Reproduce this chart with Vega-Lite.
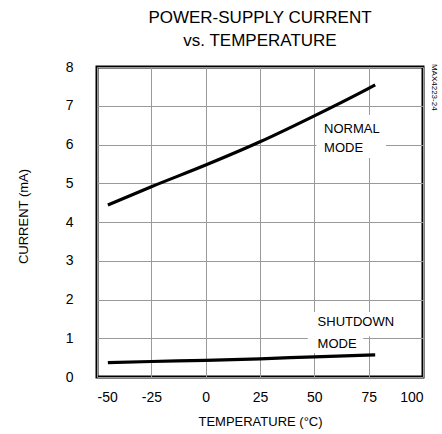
{
  "$schema": "https://vega.github.io/schema/vega-lite/v6.json",
  "width": 326,
  "height": 310,
  "autosize": "none",
  "padding": {"left": 97, "top": 67, "right": 19, "bottom": 57},
  "config": {
    "font": "Liberation Sans",
    "view": {"stroke": "black", "strokeWidth": 3},
    "axis": {"labelColor": "black", "titleColor": "black", "labelFont": "Liberation Sans", "titleFont": "Liberation Sans", "titleFontWeight": "normal"}
  },
  "title": {
    "text": ["POWER-SUPPLY CURRENT", "vs. TEMPERATURE"],
    "fontSize": 17,
    "fontWeight": "normal",
    "color": "black",
    "lineHeight": 23,
    "anchor": "middle",
    "offset": 10
  },
  "datasets": {
    "curves": [
      {"temp": -45, "current": 4.44, "mode": "normal"},
      {"temp": -25, "current": 4.91, "mode": "normal"},
      {"temp": 0, "current": 5.47, "mode": "normal"},
      {"temp": 25, "current": 6.07, "mode": "normal"},
      {"temp": 50, "current": 6.74, "mode": "normal"},
      {"temp": 75, "current": 7.45, "mode": "normal"},
      {"temp": 78, "current": 7.54, "mode": "normal"},
      {"temp": -45, "current": 0.37, "mode": "shutdown"},
      {"temp": -25, "current": 0.40, "mode": "shutdown"},
      {"temp": 0, "current": 0.43, "mode": "shutdown"},
      {"temp": 25, "current": 0.47, "mode": "shutdown"},
      {"temp": 50, "current": 0.52, "mode": "shutdown"},
      {"temp": 78, "current": 0.57, "mode": "shutdown"}
    ],
    "boxes": [
      {"temp": 51, "temp2": 83, "current": 5.65, "current2": 6.76},
      {"temp": 47, "temp2": 83.5, "current": 1.05, "current2": 1.68},
      {"temp": 47, "temp2": 72.5, "current": 0.62, "current2": 1.05}
    ],
    "labels": [
      {"temp": 54.5, "current": 6.41, "text": "NORMAL"},
      {"temp": 54.5, "current": 5.9, "text": "MODE"},
      {"temp": 51.5, "current": 1.41, "text": "SHUTDOWN"},
      {"temp": 51.5, "current": 0.86, "text": "MODE"}
    ],
    "side": [
      {"temp": 104.85, "current": 8.08, "text": "MAX4223-24"}
    ]
  },
  "encoding": {
    "x": {
      "field": "temp", "type": "quantitative",
      "scale": {"domain": [-50, 100], "nice": false, "zero": false},
      "axis": {
        "title": "TEMPERATURE (°C)",
        "values": [-50, -25, 0, 25, 50, 75, 100],
        "labelExpr": "toString(datum.value)",
        "labelOverlap": false,
        "grid": true, "gridColor": "#9a9a9a", "gridWidth": 1, "gridOpacity": 1,
        "ticks": false, "domain": false,
        "labelFontSize": 14, "labelPadding": 13,
        "titleFontSize": 13, "titlePadding": 11
      }
    },
    "y": {
      "field": "current", "type": "quantitative",
      "scale": {"domain": [0, 8], "nice": false},
      "axis": {
        "title": "CURRENT (mA)",
        "values": [0, 1, 2, 3, 4, 5, 6, 7, 8],
        "labelExpr": "toString(datum.value)",
        "labelOverlap": false,
        "grid": true, "gridColor": "#9a9a9a", "gridWidth": 1, "gridOpacity": 1,
        "ticks": false, "domain": false,
        "labelFontSize": 14, "labelPadding": 24,
        "titleFontSize": 13, "titlePadding": 35, "titleY": 149
      }
    }
  },
  "layer": [
    {
      "data": {"name": "boxes"},
      "mark": {"type": "rect", "color": "white"},
      "encoding": {
        "x2": {"field": "temp2"},
        "y2": {"field": "current2"}
      }
    },
    {
      "data": {"name": "curves"},
      "mark": {"type": "line", "color": "black", "strokeWidth": 3.2, "interpolate": "monotone"},
      "encoding": {
        "detail": {"field": "mode"}
      }
    },
    {
      "data": {"name": "labels"},
      "mark": {"type": "text", "align": "left", "baseline": "middle", "fontSize": 13, "color": "black"},
      "encoding": {
        "text": {"field": "text"}
      }
    },
    {
      "data": {"name": "side"},
      "mark": {"type": "text", "align": "left", "baseline": "middle", "angle": 90, "fontSize": 8, "color": "black"},
      "encoding": {
        "text": {"field": "text"}
      }
    }
  ]
}
